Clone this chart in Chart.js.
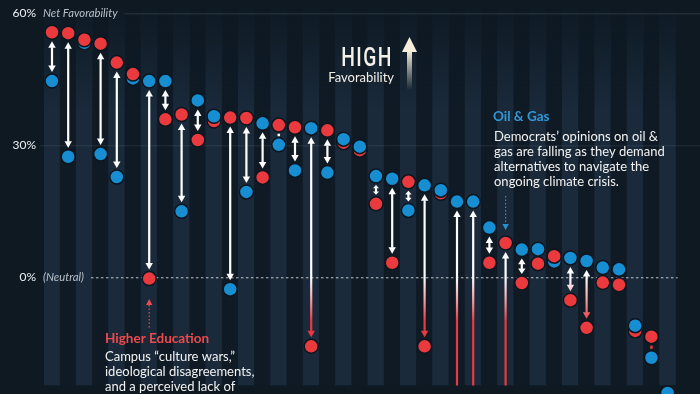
<!DOCTYPE html>
<html><head><meta charset="utf-8">
<script src="https://cdn.jsdelivr.net/npm/chart.js@4/dist/chart.umd.min.js"></script>
<style>html,body{margin:0;padding:0;background:#0e1922;overflow:hidden}#wrap{width:700px;height:394px;position:relative}</style>
</head><body><div id="wrap"><canvas id="c" width="700" height="394"></canvas></div>
<script>
// ---- data ----
const categories = ['Item 1','Item 2','Item 3','Item 4','Item 5','Item 6','Higher Education','Item 8','Item 9','Item 10',
  'Item 11','Item 12','Item 13','Item 14','Item 15','Item 16','Item 17','Item 18','Item 19','Item 20',
  'Item 21','Item 22','Item 23','Item 24','Item 25','Item 26','Item 27','Item 28','Oil & Gas','Item 30',
  'Item 31','Item 32','Item 33','Item 34','Item 35','Item 36','Item 37','Item 38','Item 39'];
const republicans = [55.7, 55.5, 54.0, 53.1, 48.8, 46.2, -0.3, 35.9, 37.0, 31.2,
  35.5, 36.3, 36.2, 22.7, 34.6, 34.1, -15.7, 33.4, 30.6, 28.9,
  16.7, 3.3, 21.7, -15.7, 19.1, -35, -38, 3.3, 7.8, -1.3,
  3.1, 4.8, -5.2, -11.5, -1.2, -1.7, -12.2, -13.5, -35];
const democrats = [44.6, 27.4, 53.3, 28.0, 22.8, 45.2, 44.6, 44.6, 15.0, 40.2,
  36.6, -2.7, 19.4, 35.0, 30.1, 24.3, 33.9, 23.8, 31.4, 29.7,
  23.0, 22.4, 15.2, 20.9, 19.8, 17.2, 17.2, 11.3, -30, 6.3,
  6.4, 3.6, 4.4, 3.7, 2.2, 1.8, -11.0, -18.3, -26.3];
const yTicks = [60, 30, 0];
const yTickLabels = ['60%', '30%', '0%'];
const yTickNotes = ['Net Favorability', '', '(Neutral)'];
const highTitle = 'HIGH';
const highSub = 'Favorability';
const oilTitle = 'Oil & Gas';
const oilLines = ['Democrats\u2019 opinions on oil &', 'gas are falling as they demand', 'alternatives to navigate the', 'ongoing climate crisis.'];
const eduTitle = 'Higher Education';
const eduLines = ['Campus \u201Cculture wars,\u201D', 'ideological disagreements,', 'and a perceived lack of'];

// ---- styling ----
const RED = '#eb3a3e', BLUE = '#178ed2';
const Y_MIN = -24.6, Y_MAX = 61.1;
const upperVals = categories.map((_, i) => Math.max(republicans[i], democrats[i]));
const lowerVals = categories.map((_, i) => Math.min(republicans[i], democrats[i]));
const upperIsRep = i => republicans[i] >= democrats[i];

function stripeColor(c) {
  const g = c.chart.ctx.createLinearGradient(0, 0, 0, 110);
  const col = c.dataIndex % 2 === 0 ? '26,42,59' : '15,26,37';
  g.addColorStop(0, 'rgba(' + col + ',0)');
  g.addColorStop(1, 'rgba(' + col + ',1)');
  return g;
}

function drawArrow(ctx, x, yTop, yBot) {
  const R = 7, gap = 2;
  const dy = yBot - yTop;
  if (dy < 18) return;
  const a = yTop + R + gap, b = yBot - R - gap, inner = b - a;
  if (inner < 8) {
    const h = Math.max(inner, 2.5);
    ctx.fillRect(x - 1.25, (a + b) / 2 - h / 2, 2.5, h);
    return;
  }
  const h = Math.min(6.5, (inner - 2) / 2.4);
  const hw = h >= 5 ? 3.7 : Math.max(3.0, h * 0.9);
  ctx.fillRect(x - 1.1, a + h - 0.5, 2.2, inner - 2 * h + 1);
  ctx.beginPath();
  ctx.moveTo(x, a); ctx.lineTo(x - hw, a + h); ctx.lineTo(x + hw, a + h); ctx.closePath(); ctx.fill();
  ctx.beginPath();
  ctx.moveTo(x, b); ctx.lineTo(x - hw, b - h); ctx.lineTo(x + hw, b - h); ctx.closePath(); ctx.fill();
}

const overlay = {
  id: 'overlay',
  afterDatasetDraw(chart, args) {
    if (args.index !== 0) return;
    const ctx = chart.ctx, ys = chart.scales.y, xs = chart.scales.x, area = chart.chartArea;
    ctx.save();
    // y labels + grid lines
    yTicks.forEach((v, i) => {
      const py = ys.getPixelForValue(v);
      ctx.textBaseline = 'middle';
      ctx.textAlign = 'right';
      ctx.fillStyle = '#eef0f2';
      ctx.font = '12px Lato';
      ctx.fillText(yTickLabels[i], 36, py);
      let start = 40;
      if (yTickNotes[i]) {
        ctx.textAlign = 'left';
        ctx.fillStyle = '#b9c0c8';
        ctx.font = 'italic 11.3px Lato';
        ctx.fillText(yTickNotes[i], 43, py);
        start = 43 + ctx.measureText(yTickNotes[i]).width + 7;
      }
      ctx.beginPath();
      ctx.lineWidth = 1;
      if (v === 0) {
        ctx.setLineDash([2.5, 2.5]);
        ctx.strokeStyle = 'rgba(255,255,255,0.75)';
        ctx.moveTo(start, py + 0.5); ctx.lineTo(area.right + 2, py + 0.5);
      } else {
        ctx.setLineDash([]);
        ctx.strokeStyle = v === 60 ? 'rgba(255,255,255,0.13)' : 'rgba(255,255,255,0.09)';
        ctx.moveTo(start, py + 0.5); ctx.lineTo(700, py + 0.5);
      }
      ctx.stroke();
    });
    ctx.setLineDash([]);
    // arrows
    ctx.beginPath();
    ctx.rect(area.left, area.top, area.right - area.left, area.bottom - area.top);
    ctx.clip();
    const g = ctx.createLinearGradient(0, ys.getPixelForValue(0), 0, ys.getPixelForValue(-10));
    g.addColorStop(0, '#ffffff');
    g.addColorStop(0.5, '#f5a3a3');
    g.addColorStop(1, '#e83a3e');
    ctx.fillStyle = g;
    categories.forEach((_, i) => {
      const px = xs.getPixelForValue(i);
      drawArrow(ctx, px, ys.getPixelForValue(upperVals[i]), ys.getPixelForValue(lowerVals[i]));
    });
    ctx.restore();
  },
  afterDraw(chart) {
    const ctx = chart.ctx, xs = chart.scales.x;
    ctx.save();
    // HIGH favorability
    ctx.save();
    ctx.translate(393, 66);
    ctx.scale(0.74, 1);
    ctx.font = '500 26px Roboto';
    ctx.letterSpacing = '2px';
    ctx.textAlign = 'right';
    ctx.textBaseline = 'alphabetic';
    ctx.fillStyle = '#f4f1ea';
    ctx.fillText(highTitle, 0, 0);
    ctx.restore();
    ctx.font = '13px Lato';
    ctx.textAlign = 'right';
    ctx.textBaseline = 'middle';
    ctx.fillStyle = '#f1eee6';
    ctx.fillText(highSub, 394, 78);
    // up arrow
    ctx.fillStyle = '#f5eedc';
    ctx.beginPath();
    ctx.moveTo(409.5, 37); ctx.lineTo(402, 52); ctx.lineTo(417, 52); ctx.closePath(); ctx.fill();
    const ag = ctx.createLinearGradient(0, 51, 0, 90);
    ag.addColorStop(0, 'rgba(245,238,220,1)');
    ag.addColorStop(1, 'rgba(245,238,220,0)');
    ctx.fillStyle = ag;
    ctx.fillRect(407, 51, 5, 39);

    // Oil & Gas note
    ctx.textAlign = 'left';
    ctx.fillStyle = '#3197d8';
    ctx.font = 'bold 13.5px Lato';
    ctx.fillText(oilTitle, 493, 117);
    ctx.fillStyle = '#f2f2f2';
    ctx.font = '13px Lato';
    oilLines.forEach((t, i) => ctx.fillText(t, 494, 137 + i * 15));
    const ox = xs.getPixelForValue(categories.indexOf('Oil & Gas'));
    ctx.strokeStyle = '#2a8fd0';
    ctx.fillStyle = '#2a8fd0';
    ctx.lineWidth = 1.2;
    ctx.setLineDash([1.5, 2]);
    ctx.beginPath(); ctx.moveTo(ox, 196); ctx.lineTo(ox, 224); ctx.stroke();
    ctx.setLineDash([]);
    ctx.beginPath(); ctx.moveTo(ox, 230); ctx.lineTo(ox - 3.2, 224); ctx.lineTo(ox + 3.2, 224); ctx.closePath(); ctx.fill();

    // Higher Education note
    ctx.fillStyle = '#ec4a4d';
    ctx.font = 'bold 13.5px Lato';
    ctx.fillText(eduTitle, 105, 339);
    ctx.fillStyle = '#f2f2f2';
    ctx.font = '13px Lato';
    eduLines.forEach((t, i) => ctx.fillText(t, 105, 357 + i * 15));
    const ex = xs.getPixelForValue(categories.indexOf('Higher Education'));
    ctx.strokeStyle = '#e84b4e';
    ctx.fillStyle = '#e84b4e';
    ctx.setLineDash([1.5, 2]);
    ctx.beginPath(); ctx.moveTo(ex, 305); ctx.lineTo(ex, 328); ctx.stroke();
    ctx.setLineDash([]);
    ctx.beginPath(); ctx.moveTo(ex, 299); ctx.lineTo(ex - 3.2, 305); ctx.lineTo(ex + 3.2, 305); ctx.closePath(); ctx.fill();
    ctx.restore();
  }
};

const dotBase = {
  type: 'line', showLine: false, pointRadius: 7, pointHoverRadius: 7,
  pointBorderWidth: 1.5, pointBorderColor: '#0c1620', clip: false
};

new Chart(document.getElementById('c'), {
  type: 'bar',
  data: {
    labels: categories,
    datasets: [
      { type: 'bar', label: 'stripes', data: categories.map(() => [Y_MIN, Y_MAX]),
        backgroundColor: stripeColor, borderWidth: 0, barPercentage: 1, categoryPercentage: 1, order: 3, clip: 0 },
      Object.assign({}, dotBase, { label: 'Lower', data: lowerVals, order: 2,
        pointBackgroundColor: c => upperIsRep(c.dataIndex) ? BLUE : RED }),
      Object.assign({}, dotBase, { label: 'Upper', data: upperVals, order: 1,
        pointBackgroundColor: c => upperIsRep(c.dataIndex) ? RED : BLUE })
    ]
  },
  options: {
    responsive: false, animation: false, devicePixelRatio: 1,
    layout: { padding: { left: 43.9, right: 24.3, top: 0, bottom: 0 } },
    plugins: { legend: { display: false }, tooltip: { enabled: false } },
    scales: {
      x: { display: false, offset: true },
      y: { display: false, min: Y_MIN, max: Y_MAX }
    }
  },
  plugins: [overlay]
});
</script></body></html>
